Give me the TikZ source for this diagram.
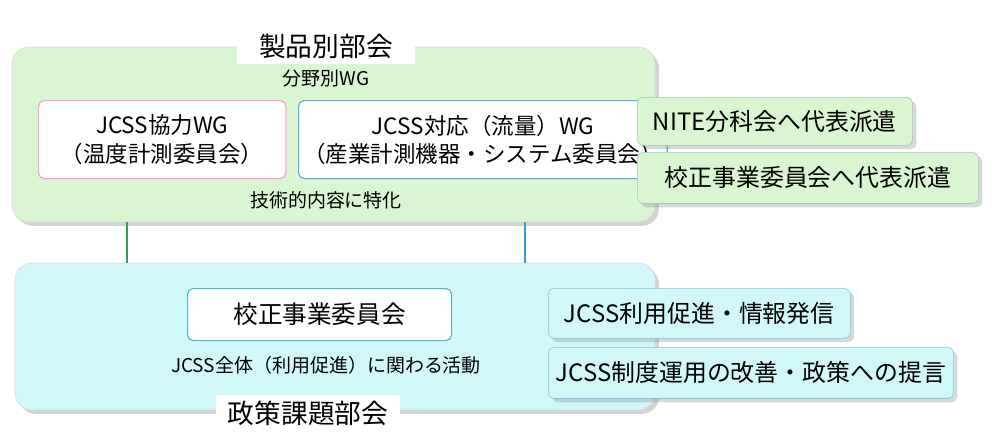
\documentclass[tikz,border=0pt]{standalone}
\usepackage{fontspec}
\setmainfont{Noto Sans CJK JP}
\usetikzlibrary{positioning}
\usetikzlibrary{shadows}
\definecolor{grpgreen}{HTML}{D9F5D2}
\definecolor{grpcyan}{HTML}{D2F7F8}
\definecolor{lingreen}{HTML}{2E9E5A}
\definecolor{linblue}{HTML}{2E9ED0}
\tikzset{
    % Big group panels
    group panel/.style={draw=white!85!black, rounded corners=12pt, drop shadow={opacity=.35}},
%
    % White title tags on the panels
    title tag/.style={fill=white, inner sep=0, font=\fontsize{19}{22}\selectfont},
%
    % Committee boxes
    wg box/.style={draw, thick, fill=white, rounded corners=4pt, align=center,
        font=\fontsize{16}{20}\selectfont, anchor=north west},
    side box/.style={draw, rounded corners=4pt, font=\fontsize{17}{20}\selectfont,
        anchor=north west, drop shadow={opacity=.3}},
    plain text/.style={font=\fontsize{13.5}{16}\selectfont}}

\begin{document}
\begin{tikzpicture}[x=0.025cm, y=-0.025cm]
\useasboundingbox (0,0) rectangle (998,447);

% Upper panel
\draw[group panel, fill=grpgreen] (12,47) rectangle (655,222);
\node[title tag, minimum width=4.45cm, minimum height=0.92cm] (seihin) at (326,46) {製品別部会};
\node[plain text] (bunya) at (326,79) {分野別WG};
\node[wg box, draw=pink!80!magenta, minimum width=6.18cm, minimum height=1.95cm]
    (kyoryoku) at (38,100) {JCSS協力WG\\（温度計測委員会）};
\node[wg box, draw=linblue!80, minimum width=8.33cm, minimum height=1.95cm]
    (taio) at (298,100) {JCSS対応（流量）WG\\（産業計測機器・システム委員会）};
\node[plain text] (gijutsu) at (326,200) {技術的内容に特化};

\node[side box, draw=lingreen!50, fill=grpgreen, minimum width=6.88cm, minimum height=1.2cm]
    (nite) at (637,97) {NITE分科会へ代表派遣};
\node[side box, draw=lingreen!50, fill=grpgreen, minimum width=8.53cm, minimum height=1.28cm]
    (haken) at (637,152) {校正事業委員会へ代表派遣};

% Lower panel
\draw[group panel, fill=grpcyan] (15,263) rectangle (655,410);
\coordinate (upper left) at (127,222);
\coordinate (lower left) at (127,263);
\coordinate (upper right) at (525,222);
\coordinate (lower right) at (525,263);
\draw[lingreen, thick] (upper left) -- (lower left);
\draw[linblue, thick] (upper right) -- (lower right);

\node[wg box, draw=linblue!80, minimum width=6.6cm, minimum height=1.3cm,
    font=\fontsize{17.5}{20}\selectfont] (kosei) at (187,288) {校正事業委員会};
\node[plain text] (zentai) at (326,365) {JCSS全体（利用促進）に関わる活動};
\node[title tag, minimum width=4.6cm, minimum height=0.88cm] (seisaku) at (308,413) {政策課題部会};

\node[side box, draw=linblue!60, fill=grpcyan, minimum width=7.55cm, minimum height=1.25cm]
    (sokushin) at (548,288) {JCSS利用促進・情報発信};
\node[side box, draw=linblue!60, fill=grpcyan, minimum width=10.13cm, minimum height=1.28cm]
    (teigen) at (548,347) {JCSS制度運用の改善・政策への提言};

\end{tikzpicture}
\end{document}
